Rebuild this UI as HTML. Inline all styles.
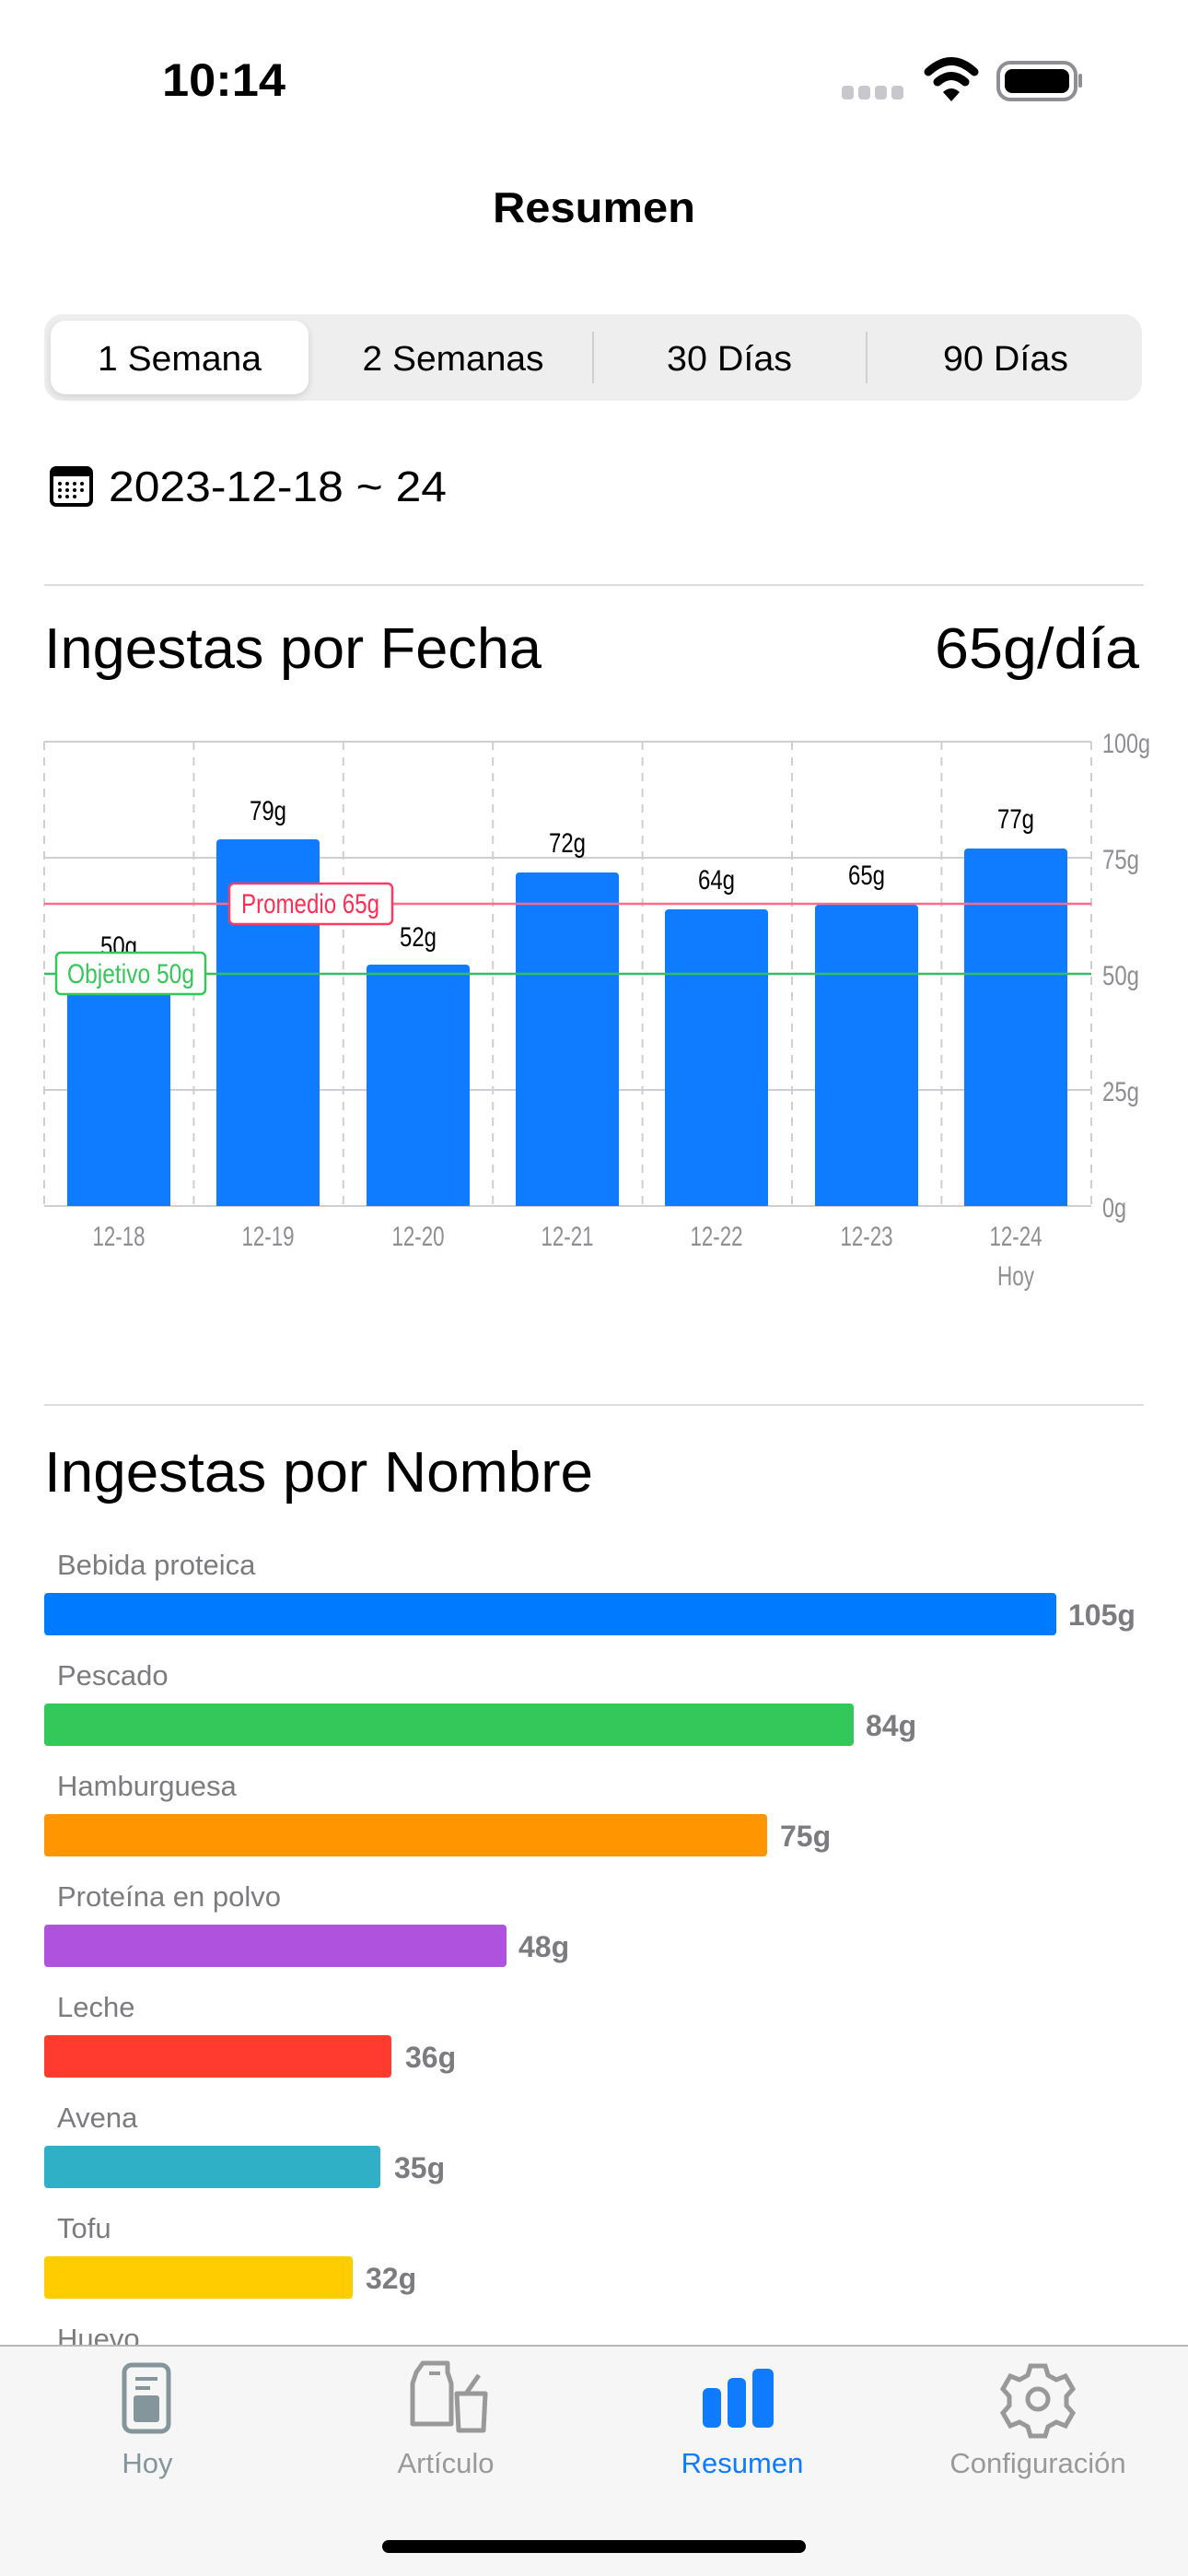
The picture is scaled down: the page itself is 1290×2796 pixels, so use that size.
<!DOCTYPE html>
<html><head><meta charset="utf-8"><style>
html,body{margin:0;padding:0;background:#fff;width:1290px;height:2796px;overflow:hidden}
svg{display:block}
text{font-family:"Liberation Sans",sans-serif}
</style></head><body>
<svg width="1290" height="2796" viewBox="0 0 1290 2796" xmlns="http://www.w3.org/2000/svg">
<!-- status bar -->
<text x="243" y="104" font-size="50" font-weight="bold" text-anchor="middle" textLength="134" lengthAdjust="spacingAndGlyphs">10:14</text>
<g fill="#c7c7cc"><rect x="914" y="93" width="13" height="15" rx="4"/><rect x="932" y="93" width="13" height="15" rx="4"/><rect x="950" y="93" width="13" height="15" rx="4"/><rect x="968" y="93" width="13" height="15" rx="4"/></g>
<g fill="none" stroke="#000" stroke-width="9" stroke-linecap="round">
<path d="M1008 78 Q1033 55 1058 78"/><path d="M1018 89 Q1033 76 1048 89"/></g>
<path d="M1024 100 L1033 110 L1042 100 Q1033 92 1024 100Z" fill="#000"/>
<rect x="1085" y="70" width="82" height="104" rx="14" fill="none" stroke="#888" stroke-width="4" transform="translate(0,0)" style="display:none"/>
<rect x="1084" y="68" width="84" height="40" rx="13" fill="none" stroke="#8e8e93" stroke-width="4"/>
<rect x="1091" y="75" width="70" height="26" rx="8" fill="#000"/>
<rect x="1171" y="80" width="4" height="15" rx="2" fill="#8e8e93"/>
<!-- title -->
<text x="645" y="241" font-size="46" font-weight="bold" text-anchor="middle" textLength="220" lengthAdjust="spacingAndGlyphs">Resumen</text>
<!-- segmented -->
<rect x="48" y="341" width="1192" height="94" rx="20" fill="#eeeeef"/>
<rect x="55" y="348" width="280" height="80" rx="16" fill="#fff" style="filter:drop-shadow(0 3px 4px rgba(0,0,0,.12))"/>
<rect x="643" y="360" width="2" height="56" fill="#d0d0d4"/>
<rect x="940" y="360" width="2" height="56" fill="#d0d0d4"/>
<g font-size="38" text-anchor="middle">
<text x="195" y="402" textLength="178" lengthAdjust="spacingAndGlyphs">1 Semana</text>
<text x="492" y="402" textLength="197" lengthAdjust="spacingAndGlyphs">2 Semanas</text>
<text x="792" y="402" textLength="136" lengthAdjust="spacingAndGlyphs">30 Días</text>
<text x="1092" y="402" textLength="136" lengthAdjust="spacingAndGlyphs">90 Días</text>
</g>
<!-- date -->
<rect x="57" y="841" width="0" height="0"/>
<rect x="56" y="508" width="43" height="40" rx="5" fill="none" stroke="#000" stroke-width="4"/>
<rect x="56" y="508" width="43" height="9" fill="#000"/>
<g fill="#000"><circle cx="65" cy="525" r="2"/><circle cx="73" cy="525" r="2"/><circle cx="81" cy="525" r="2"/><circle cx="89" cy="525" r="2"/><circle cx="65" cy="532" r="2"/><circle cx="73" cy="532" r="2"/><circle cx="81" cy="532" r="2"/><circle cx="89" cy="532" r="2"/><circle cx="65" cy="539" r="2"/><circle cx="73" cy="539" r="2"/><circle cx="81" cy="539" r="2"/></g>
<text x="118" y="544" font-size="46" textLength="367" lengthAdjust="spacingAndGlyphs">2023-12-18 ~ 24</text>
<rect x="48" y="634" width="1194" height="2" fill="#dcdcdc"/>
<!-- section 1 header -->
<text x="48" y="725" font-size="62" textLength="540" lengthAdjust="spacingAndGlyphs">Ingestas por Fecha</text>
<text x="1237" y="725" font-size="62" text-anchor="end" textLength="222" lengthAdjust="spacingAndGlyphs">65g/día</text>
<!-- chart grid -->
<g stroke="#cfcfd3" stroke-width="2">
<line x1="48" y1="805" x2="1185" y2="805"/><line x1="48" y1="931" x2="1185" y2="931"/><line x1="48" y1="1057" x2="1185" y2="1057"/><line x1="48" y1="1183" x2="1185" y2="1183"/><line x1="48" y1="1309" x2="1185" y2="1309"/></g>
<g stroke="#cfcfd3" stroke-width="2" stroke-dasharray="9,8">
<line x1="48" y1="805" x2="48" y2="1309"/><line x1="210.4" y1="805" x2="210.4" y2="1309"/><line x1="372.8" y1="805" x2="372.8" y2="1309"/><line x1="535.2" y1="805" x2="535.2" y2="1309"/><line x1="697.6" y1="805" x2="697.6" y2="1309"/><line x1="860" y1="805" x2="860" y2="1309"/><line x1="1022.4" y1="805" x2="1022.4" y2="1309"/><line x1="1185" y1="805" x2="1185" y2="1309"/></g>
<g fill="#0f7bff">
<path d="M73 1309V1061a4 4 0 0 1 4-4h104a4 4 0 0 1 4 4V1309Z"/>
<path d="M235 1309V915a4 4 0 0 1 4-4h104a4 4 0 0 1 4 4V1309Z"/>
<path d="M398 1309V1051a4 4 0 0 1 4-4h104a4 4 0 0 1 4 4V1309Z"/>
<path d="M560 1309V951a4 4 0 0 1 4-4h104a4 4 0 0 1 4 4V1309Z"/>
<path d="M722 1309V991a4 4 0 0 1 4-4h104a4 4 0 0 1 4 4V1309Z"/>
<path d="M885 1309V986a4 4 0 0 1 4-4h104a4 4 0 0 1 4 4V1309Z"/>
<path d="M1047 1309V925a4 4 0 0 1 4-4h104a4 4 0 0 1 4 4V1309Z"/>
</g>
<g font-size="30" text-anchor="middle" fill="#000">
<text x="129" y="1037" textLength="40" lengthAdjust="spacingAndGlyphs">50g</text>
<text x="291" y="890" textLength="40" lengthAdjust="spacingAndGlyphs">79g</text>
<text x="454" y="1027" textLength="40" lengthAdjust="spacingAndGlyphs">52g</text>
<text x="616" y="925" textLength="40" lengthAdjust="spacingAndGlyphs">72g</text>
<text x="778" y="965" textLength="40" lengthAdjust="spacingAndGlyphs">64g</text>
<text x="941" y="960" textLength="40" lengthAdjust="spacingAndGlyphs">65g</text>
<text x="1103" y="899" textLength="40" lengthAdjust="spacingAndGlyphs">77g</text>
</g>
<line x1="48" y1="981" x2="1185" y2="981" stroke="#ff6b8a" stroke-width="2.5"/>
<line x1="48" y1="1057" x2="1185" y2="1057" stroke="#30c060" stroke-width="2.5"/>
<rect x="249" y="959" width="177" height="44" rx="5" fill="#fff" stroke="#ff3b64" stroke-width="2.5"/>
<text x="337" y="991" font-size="30" text-anchor="middle" fill="#ff2d55" textLength="150" lengthAdjust="spacingAndGlyphs">Promedio 65g</text>
<rect x="61" y="1034" width="162" height="45" rx="5" fill="#fff" stroke="#34c759" stroke-width="2.5"/>
<text x="142" y="1067" font-size="30" text-anchor="middle" fill="#34c759" textLength="138" lengthAdjust="spacingAndGlyphs">Objetivo 50g</text>
<g font-size="30" fill="#8e8e93">
<text x="1197" y="817" textLength="52" lengthAdjust="spacingAndGlyphs">100g</text>
<text x="1197" y="943" textLength="40" lengthAdjust="spacingAndGlyphs">75g</text>
<text x="1197" y="1069" textLength="40" lengthAdjust="spacingAndGlyphs">50g</text>
<text x="1197" y="1195" textLength="40" lengthAdjust="spacingAndGlyphs">25g</text>
<text x="1197" y="1321" textLength="26" lengthAdjust="spacingAndGlyphs">0g</text>
</g>
<g font-size="30" fill="#8e8e93" text-anchor="middle">
<text x="129" y="1352" textLength="57" lengthAdjust="spacingAndGlyphs">12-18</text>
<text x="291" y="1352" textLength="57" lengthAdjust="spacingAndGlyphs">12-19</text>
<text x="454" y="1352" textLength="57" lengthAdjust="spacingAndGlyphs">12-20</text>
<text x="616" y="1352" textLength="57" lengthAdjust="spacingAndGlyphs">12-21</text>
<text x="778" y="1352" textLength="57" lengthAdjust="spacingAndGlyphs">12-22</text>
<text x="941" y="1352" textLength="57" lengthAdjust="spacingAndGlyphs">12-23</text>
<text x="1103" y="1352" textLength="57" lengthAdjust="spacingAndGlyphs">12-24</text>
<text x="1103" y="1395" textLength="40" lengthAdjust="spacingAndGlyphs">Hoy</text>
</g>
<!-- section 2 -->
<rect x="48" y="1524" width="1194" height="2" fill="#dcdcdc"/>
<text x="48" y="1619" font-size="62" textLength="596" lengthAdjust="spacingAndGlyphs">Ingestas por Nombre</text>
<g font-size="31" fill="#7c7c80">
<text x="62" y="1709">Bebida proteica</text>
<text x="62" y="1829">Pescado</text>
<text x="62" y="1949">Hamburguesa</text>
<text x="62" y="2069">Proteína en polvo</text>
<text x="62" y="2189">Leche</text>
<text x="62" y="2309">Avena</text>
<text x="62" y="2429">Tofu</text>
<text x="62" y="2549">Huevo</text>
</g>
<rect x="48" y="1729" width="1099" height="46" rx="4" fill="#007aff"/>
<rect x="48" y="1849" width="879" height="46" rx="4" fill="#34c759"/>
<rect x="48" y="1969" width="785" height="46" rx="4" fill="#ff9500"/>
<rect x="48" y="2089" width="502" height="46" rx="4" fill="#af52de"/>
<rect x="48" y="2209" width="377" height="46" rx="4" fill="#ff3b30"/>
<rect x="48" y="2329" width="365" height="46" rx="4" fill="#30b0c7"/>
<rect x="48" y="2449" width="335" height="46" rx="4" fill="#ffcc00"/>
<g font-size="32" fill="#7c7c80" font-weight="bold">
<text x="1160" y="1764">105g</text>
<text x="940" y="1884">84g</text>
<text x="847" y="2004">75g</text>
<text x="563" y="2124">48g</text>
<text x="440" y="2244">36g</text>
<text x="428" y="2364">35g</text>
<text x="397" y="2484">32g</text>
</g>
<!-- tab bar -->
<rect x="0" y="2546" width="1290" height="250" fill="#f6f6f6"/>
<rect x="0" y="2545" width="1290" height="2" fill="#b8b8b8"/>
<rect x="135" y="2567" width="48" height="72" rx="8" fill="none" stroke="#84969c" stroke-width="5"/>
<rect x="145" y="2600" width="28" height="29" rx="3" fill="#84969c"/>
<rect x="147" y="2580" width="24" height="4" fill="#84969c"/><rect x="147" y="2590" width="16" height="4" fill="#84969c"/>
<g fill="none" stroke="#999" stroke-width="5" stroke-linejoin="round">
<path d="M459 2565h27v10l4 12v44h-42v-44l4-12z"/>
<path d="M496 2598h31l-2 40h-27z"/><path d="M506 2598l14-20"/>
</g>
<rect x="466" y="2574" width="12" height="4" fill="#999"/>
<g fill="#0f7bff"><rect x="763" y="2592" width="20" height="43" rx="6"/><rect x="790" y="2581" width="20" height="54" rx="6"/><rect x="817" y="2571" width="23" height="64" rx="6"/></g>
<g transform="translate(1127,2604)" fill="none" stroke="#999" stroke-width="5">
<path d="M-8 -36h16l3 10 9 5 10-4 8 14-7 8v10l7 8-8 14-10-4-9 5-3 10h-16l-3-10-9-5-10 4-8-14 7-8v-10l-7-8 8-14 10 4 9-5z"/>
<circle r="11"/></g>
<g font-size="31" text-anchor="middle">
<text x="160" y="2684" fill="#84969c">Hoy</text>
<text x="484" y="2684" fill="#999">Artículo</text>
<text x="806" y="2684" fill="#0f7bff">Resumen</text>
<text x="1127" y="2684" fill="#999">Configuración</text>
</g>
<rect x="415" y="2757" width="460" height="14" rx="7" fill="#000"/>
</svg>
</body></html>
